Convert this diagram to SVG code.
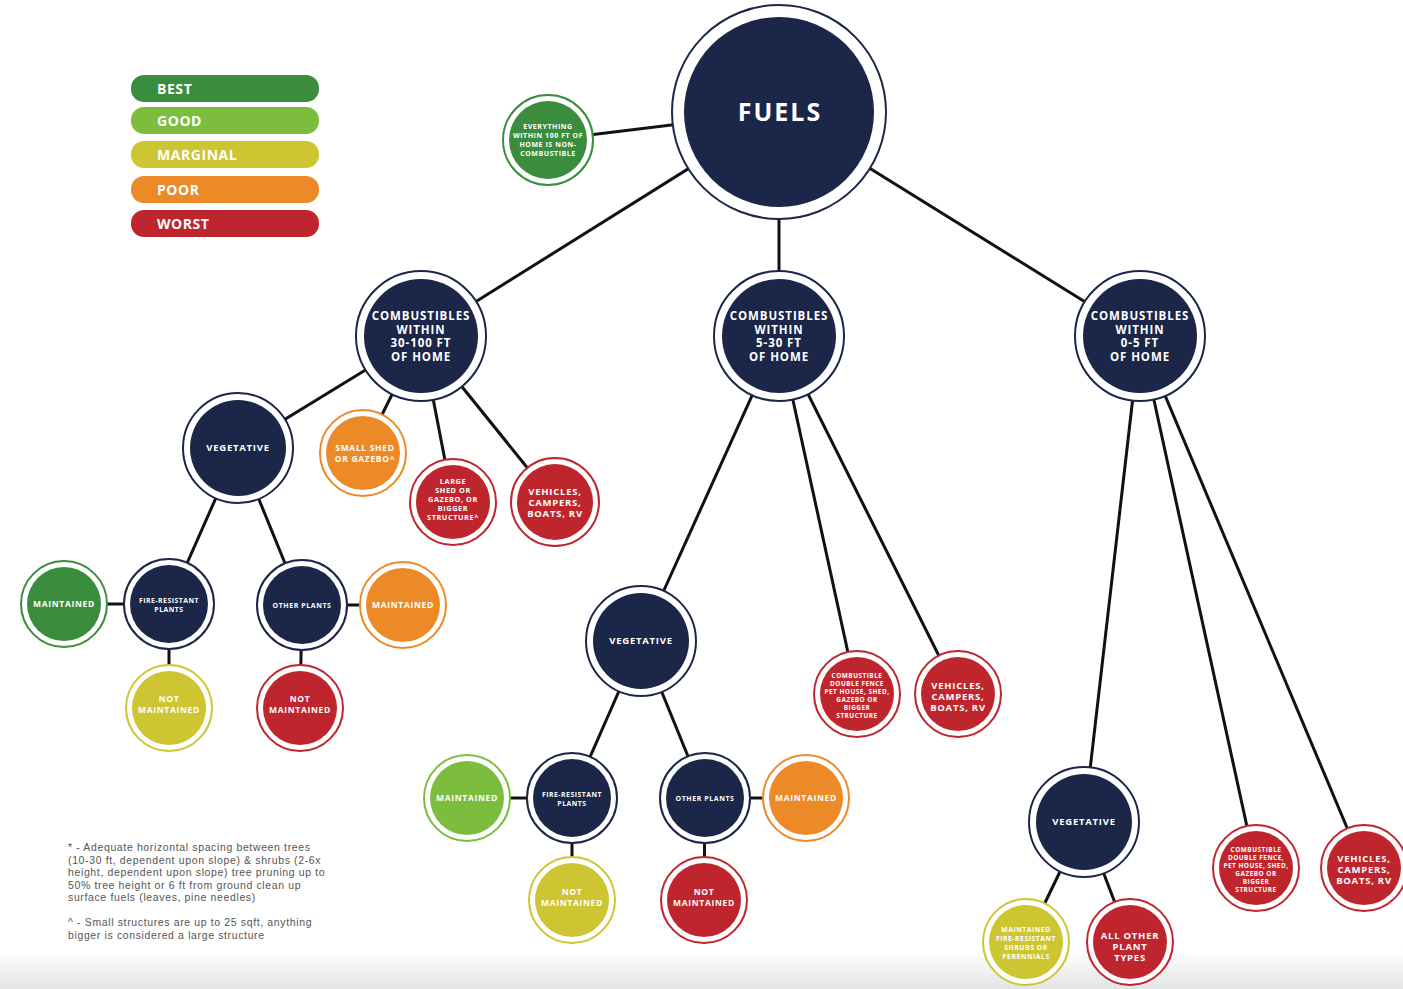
<svg xmlns="http://www.w3.org/2000/svg" width="1403" height="989" viewBox="0 0 1403 989">
<defs>
<linearGradient id="band" x1="0" y1="0" x2="0" y2="1">
<stop offset="0" stop-color="#ffffff"/>
<stop offset="1" stop-color="#e4e4e6"/>
</linearGradient>
</defs>
<style>
text{font-family:"Open Sans","Liberation Sans",sans-serif;font-weight:700;fill:#fff;text-anchor:middle;letter-spacing:0.08em}
.ring{fill:#fff;stroke-width:2}
.navy .ring{stroke:#1b2648}.navy .core{fill:#1b2648}
.best .ring{stroke:#3b8d3e}.best .core{fill:#3b8d3e}
.good .ring{stroke:#7cbd3e}.good .core{fill:#7cbd3e}
.marg .ring{stroke:#cdc532}.marg .core{fill:#cdc532}
.poor .ring{stroke:#ec8a28}.poor .core{fill:#ec8a28}
.worst .ring{stroke:#bf252c}.worst .core{fill:#bf252c}
.conn line{stroke:#111;stroke-width:3}
.leg rect{rx:13;ry:13}
.leg text{text-anchor:start;font-size:14px;letter-spacing:0.04em}
.note{font-family:"Liberation Sans",Arial,sans-serif;font-weight:400;fill:#555;text-anchor:start;font-size:10.5px;letter-spacing:0.06em}
</style>
<rect width="1403" height="989" fill="#fff"/>
<rect x="0" y="950" width="1403" height="39" fill="url(#band)"/>

<g id="legend" class="leg">
<rect x="131" y="75" width="188" height="27" fill="#3b8d3e"/>
<text x="157" y="93.5">BEST</text>
<rect x="131" y="107" width="188" height="27" fill="#7cbd3e"/>
<text x="157" y="125.5">GOOD</text>
<rect x="131" y="141" width="188" height="27" fill="#cdc532"/>
<text x="157" y="159.5">MARGINAL</text>
<rect x="131" y="176" width="188" height="27" fill="#ec8a28"/>
<text x="157" y="194.5">POOR</text>
<rect x="131" y="210" width="188" height="27" fill="#bf252c"/>
<text x="157" y="228.5">WORST</text>
</g>

<g id="connectors" class="conn">
<line x1="779" y1="112" x2="548" y2="140"/>
<line x1="779" y1="112" x2="421" y2="336"/>
<line x1="779" y1="112" x2="779" y2="336"/>
<line x1="779" y1="112" x2="1140" y2="336"/>
<line x1="421" y1="336" x2="238" y2="448"/>
<line x1="421" y1="336" x2="363" y2="453"/>
<line x1="421" y1="336" x2="453" y2="502"/>
<line x1="421" y1="336" x2="555" y2="502"/>
<line x1="238" y1="448" x2="169" y2="604"/>
<line x1="238" y1="448" x2="302" y2="605"/>
<line x1="169" y1="604" x2="64" y2="604"/>
<line x1="169" y1="604" x2="169" y2="708"/>
<line x1="302" y1="605" x2="403" y2="605"/>
<line x1="302" y1="605" x2="300" y2="708"/>
<line x1="779" y1="336" x2="641" y2="641"/>
<line x1="779" y1="336" x2="857" y2="694"/>
<line x1="779" y1="336" x2="958" y2="694"/>
<line x1="641" y1="641" x2="572" y2="798"/>
<line x1="641" y1="641" x2="705" y2="798"/>
<line x1="572" y1="798" x2="467" y2="798"/>
<line x1="572" y1="798" x2="572" y2="900"/>
<line x1="705" y1="798" x2="806" y2="798"/>
<line x1="705" y1="798" x2="704" y2="900"/>
<line x1="1140" y1="336" x2="1084" y2="822"/>
<line x1="1140" y1="336" x2="1256" y2="868"/>
<line x1="1140" y1="336" x2="1364" y2="868"/>
<line x1="1084" y1="822" x2="1026" y2="942"/>
<line x1="1084" y1="822" x2="1130" y2="942"/>
</g>

<g id="fuels" class="navy">
<circle class="ring" cx="779" cy="112" r="107"/>
<circle class="core" cx="779" cy="112" r="95"/>
<text x="780" y="121" font-size="25">FUELS</text>
</g>

<g id="everything" class="best">
<circle class="ring" cx="548" cy="140" r="45"/>
<circle class="core" cx="548" cy="140" r="39"/>
<text font-size="7"><tspan x="548" y="129">EVERYTHING</tspan><tspan x="548" y="138">WITHIN 100 FT OF</tspan><tspan x="548" y="147">HOME IS NON-</tspan><tspan x="548" y="156">COMBUSTIBLE</tspan></text>
</g>

<g id="c30-100" class="navy">
<circle class="ring" cx="421" cy="336" r="65"/>
<circle class="core" cx="421" cy="336" r="57"/>
<text font-size="11.5"><tspan x="421" y="320">COMBUSTIBLES</tspan><tspan x="421" y="334">WITHIN</tspan><tspan x="421" y="347">30-100 FT</tspan><tspan x="421" y="361">OF HOME</tspan></text>
</g>

<g id="c5-30" class="navy">
<circle class="ring" cx="779" cy="336" r="65"/>
<circle class="core" cx="779" cy="336" r="57"/>
<text font-size="11.5"><tspan x="779" y="320">COMBUSTIBLES</tspan><tspan x="779" y="334">WITHIN</tspan><tspan x="779" y="347">5-30 FT</tspan><tspan x="779" y="361">OF HOME</tspan></text>
</g>

<g id="c0-5" class="navy">
<circle class="ring" cx="1140" cy="336" r="65"/>
<circle class="core" cx="1140" cy="336" r="57"/>
<text font-size="11.5"><tspan x="1140" y="320">COMBUSTIBLES</tspan><tspan x="1140" y="334">WITHIN</tspan><tspan x="1140" y="347">0-5 FT</tspan><tspan x="1140" y="361">OF HOME</tspan></text>
</g>

<g id="veg-left" class="navy">
<circle class="ring" cx="238" cy="448" r="55"/>
<circle class="core" cx="238" cy="448" r="48"/>
<text x="238" y="451" font-size="9.5">VEGETATIVE</text>
</g>

<g id="small-shed" class="poor">
<circle class="ring" cx="363" cy="453" r="43"/>
<circle class="core" cx="363" cy="453" r="37"/>
<text font-size="8.5"><tspan x="365" y="451">SMALL SHED</tspan><tspan x="365" y="462">OR GAZEBO^</tspan></text>
</g>

<g id="large-shed" class="worst">
<circle class="ring" cx="453" cy="502" r="43"/>
<circle class="core" cx="453" cy="502" r="37"/>
<text font-size="7.3"><tspan x="453" y="484">LARGE</tspan><tspan x="453" y="493">SHED OR</tspan><tspan x="453" y="502">GAZEBO, OR</tspan><tspan x="453" y="511">BIGGER</tspan><tspan x="453" y="520">STRUCTURE^</tspan></text>
</g>

<g id="vehicles-left" class="worst">
<circle class="ring" cx="555" cy="502" r="44"/>
<circle class="core" cx="555" cy="502" r="38"/>
<text font-size="9.5"><tspan x="555" y="495">VEHICLES,</tspan><tspan x="555" y="506">CAMPERS,</tspan><tspan x="555" y="517">BOATS, RV</tspan></text>
</g>

<g id="maint-l1" class="best">
<circle class="ring" cx="64" cy="604" r="43"/>
<circle class="core" cx="64" cy="604" r="37"/>
<text x="64" y="607" font-size="8.5">MAINTAINED</text>
</g>

<g id="fire-l" class="navy">
<circle class="ring" cx="169" cy="604" r="45"/>
<circle class="core" cx="169" cy="604" r="39"/>
<text font-size="6.8"><tspan x="169" y="603">FIRE-RESISTANT</tspan><tspan x="169" y="612">PLANTS</tspan></text>
</g>

<g id="other-l" class="navy">
<circle class="ring" cx="302" cy="605" r="45"/>
<circle class="core" cx="302" cy="605" r="39"/>
<text x="302" y="608" font-size="7">OTHER PLANTS</text>
</g>

<g id="maint-l2" class="poor">
<circle class="ring" cx="403" cy="605" r="43"/>
<circle class="core" cx="403" cy="605" r="37"/>
<text x="403" y="608" font-size="8.5">MAINTAINED</text>
</g>

<g id="notm-l1" class="marg">
<circle class="ring" cx="169" cy="708" r="43"/>
<circle class="core" cx="169" cy="708" r="37"/>
<text font-size="8.5"><tspan x="169" y="702">NOT</tspan><tspan x="169" y="713">MAINTAINED</tspan></text>
</g>

<g id="notm-l2" class="worst">
<circle class="ring" cx="300" cy="708" r="43"/>
<circle class="core" cx="300" cy="708" r="37"/>
<text font-size="8.5"><tspan x="300" y="702">NOT</tspan><tspan x="300" y="713">MAINTAINED</tspan></text>
</g>

<g id="veg-mid" class="navy">
<circle class="ring" cx="641" cy="641" r="55"/>
<circle class="core" cx="641" cy="641" r="48"/>
<text x="641" y="644" font-size="9.5">VEGETATIVE</text>
</g>

<g id="fence-mid" class="worst">
<circle class="ring" cx="857" cy="694" r="43"/>
<circle class="core" cx="857" cy="694" r="37"/>
<text font-size="6.4"><tspan x="857" y="678">COMBUSTIBLE</tspan><tspan x="857" y="686">DOUBLE FENCE</tspan><tspan x="857" y="694">PET HOUSE, SHED,</tspan><tspan x="857" y="702">GAZEBO OR</tspan><tspan x="857" y="710">BIGGER</tspan><tspan x="857" y="718">STRUCTURE</tspan></text>
</g>

<g id="vehicles-mid" class="worst">
<circle class="ring" cx="958" cy="694" r="43"/>
<circle class="core" cx="958" cy="694" r="37"/>
<text font-size="9.5"><tspan x="958" y="689">VEHICLES,</tspan><tspan x="958" y="700">CAMPERS,</tspan><tspan x="958" y="711">BOATS, RV</tspan></text>
</g>

<g id="maint-m1" class="good">
<circle class="ring" cx="467" cy="798" r="43"/>
<circle class="core" cx="467" cy="798" r="37"/>
<text x="467" y="801" font-size="8.5">MAINTAINED</text>
</g>

<g id="fire-m" class="navy">
<circle class="ring" cx="572" cy="798" r="45"/>
<circle class="core" cx="572" cy="798" r="39"/>
<text font-size="6.8"><tspan x="572" y="797">FIRE-RESISTANT</tspan><tspan x="572" y="806">PLANTS</tspan></text>
</g>

<g id="other-m" class="navy">
<circle class="ring" cx="705" cy="798" r="45"/>
<circle class="core" cx="705" cy="798" r="39"/>
<text x="705" y="801" font-size="7">OTHER PLANTS</text>
</g>

<g id="maint-m2" class="poor">
<circle class="ring" cx="806" cy="798" r="43"/>
<circle class="core" cx="806" cy="798" r="37"/>
<text x="806" y="801" font-size="8.5">MAINTAINED</text>
</g>

<g id="notm-m1" class="marg">
<circle class="ring" cx="572" cy="900" r="43"/>
<circle class="core" cx="572" cy="900" r="37"/>
<text font-size="8.5"><tspan x="572" y="895">NOT</tspan><tspan x="572" y="906">MAINTAINED</tspan></text>
</g>

<g id="notm-m2" class="worst">
<circle class="ring" cx="704" cy="900" r="43"/>
<circle class="core" cx="704" cy="900" r="37"/>
<text font-size="8.5"><tspan x="704" y="895">NOT</tspan><tspan x="704" y="906">MAINTAINED</tspan></text>
</g>

<g id="veg-right" class="navy">
<circle class="ring" cx="1084" cy="822" r="55"/>
<circle class="core" cx="1084" cy="822" r="48"/>
<text x="1084" y="825" font-size="9.5">VEGETATIVE</text>
</g>

<g id="maint-r" class="marg">
<circle class="ring" cx="1026" cy="942" r="43"/>
<circle class="core" cx="1026" cy="942" r="37"/>
<text font-size="6.8"><tspan x="1026" y="932">MAINTAINED</tspan><tspan x="1026" y="941">FIRE-RESISTANT</tspan><tspan x="1026" y="950">SHRUBS OR</tspan><tspan x="1026" y="959">PERENNIALS</tspan></text>
</g>

<g id="allother-r" class="worst">
<circle class="ring" cx="1130" cy="942" r="43"/>
<circle class="core" cx="1130" cy="942" r="37"/>
<text font-size="9.5"><tspan x="1130" y="939">ALL OTHER</tspan><tspan x="1130" y="950">PLANT</tspan><tspan x="1130" y="961">TYPES</tspan></text>
</g>

<g id="fence-right" class="worst">
<circle class="ring" cx="1256" cy="868" r="43"/>
<circle class="core" cx="1256" cy="868" r="37"/>
<text font-size="6.4"><tspan x="1256" y="852">COMBUSTIBLE</tspan><tspan x="1256" y="860">DOUBLE FENCE,</tspan><tspan x="1256" y="868">PET HOUSE, SHED,</tspan><tspan x="1256" y="876">GAZEBO OR</tspan><tspan x="1256" y="884">BIGGER</tspan><tspan x="1256" y="892">STRUCTURE</tspan></text>
</g>

<g id="vehicles-right" class="worst">
<circle class="ring" cx="1364" cy="868" r="43"/>
<circle class="core" cx="1364" cy="868" r="37"/>
<text font-size="9.5"><tspan x="1364" y="862">VEHICLES,</tspan><tspan x="1364" y="873">CAMPERS,</tspan><tspan x="1364" y="884">BOATS, RV</tspan></text>
</g>

<g id="notes">
<text class="note"><tspan x="68" y="851">* -  Adequate horizontal spacing between trees</tspan><tspan x="68" y="863.5">(10-30 ft, dependent upon slope) &amp; shrubs (2-6x</tspan><tspan x="68" y="876">height, dependent upon slope) tree pruning up to</tspan><tspan x="68" y="888.5">50% tree height or 6 ft from ground clean up</tspan><tspan x="68" y="901">surface fuels (leaves, pine needles)</tspan></text>
<text class="note"><tspan x="68" y="926">^ - Small structures are up to 25 sqft, anything</tspan><tspan x="68" y="939">bigger is considered a large structure</tspan></text>
</g>
</svg>
